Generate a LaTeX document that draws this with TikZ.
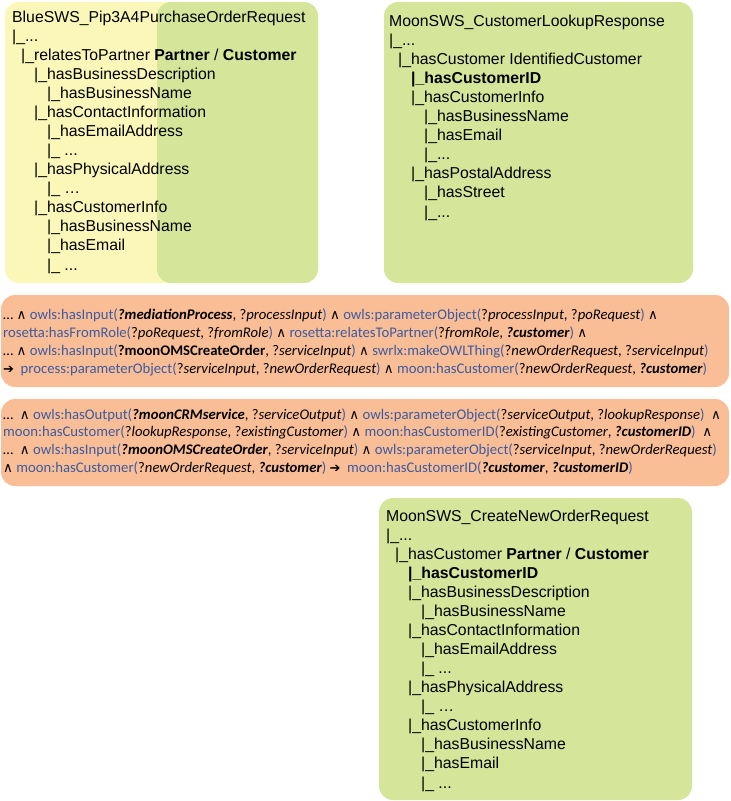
\documentclass[tikz,border=0pt]{standalone}
\usepackage{fontspec}
\setmainfont{Liberation Sans}
\newfontfamily\rulefont{Carlito}
\newfontfamily\symfont{DejaVu Sans}
\usepackage{xcolor}
\usetikzlibrary{positioning}

\definecolor{boxyellow}{HTML}{FAF7B8}
\definecolor{boxgreen}{HTML}{D5E59A}
\definecolor{ruleorange}{HTML}{FABE96}
\definecolor{predblue}{HTML}{3C5AA0}

% rule atoms
\newcommand\pred[2]{\textcolor{predblue}{#1(}#2\textcolor{predblue}{)}}
\newcommand\qv[1]{?\textit{#1}}
\newcommand\qb[1]{\textbf{\textit{?#1}}}
\newcommand\qB[1]{\textbf{?#1}}
\newcommand\und{{\symfont\fontsize{13.5}{12}\selectfont ∧}}
\newcommand\impl{{\symfont\fontsize{13}{12}\selectfont ➔}}
\newcommand\ind[1]{\hspace*{#1pt}}

\begin{document}
\begin{tikzpicture}[x=1pt, y=-1pt,
  tree/.style={anchor=base west, inner sep=0pt, align=left,
    font=\fontsize{15.8}{19.07}\selectfont},
  rule/.style={anchor=base west, inner sep=0pt, align=left,
    font=\rulefont\fontsize{14.7}{17.8}\selectfont},
  box/.style={rounded corners=14pt}]

  \useasboundingbox (0,0) rectangle (731,801);

  % Boxes
  \fill[box, boxyellow] (5,2) rectangle (318,283);
  \fill[box, boxgreen] (157,2) rectangle (318,283);
  \fill[box, boxgreen] (384,2) rectangle (693,283);
  \fill[box, ruleorange] (1,295) rectangle (729,387);
  \fill[box, ruleorange] (1,399) rectangle (729,486);
  \fill[box, boxgreen] (379,498) rectangle (692,800);

  % Purchase order request (anchored at its last line)
  \node[tree] (poreq) at (12,270) {BlueSWS\_Pip3A4PurchaseOrderRequest\\
    |\_...\\
    \ind{9}|\_relatesToPartner \textbf{Partner} / \textbf{Customer}\\
    \ind{22}|\_hasBusinessDescription\\
    \ind{35}|\_hasBusinessName\\
    \ind{22}|\_hasContactInformation\\
    \ind{35}|\_hasEmailAddress\\
    \ind{35}|\_ ...\\
    \ind{22}|\_hasPhysicalAddress\\
    \ind{35}|\_ …\\
    \ind{22}|\_hasCustomerInfo\\
    \ind{35}|\_hasBusinessName\\
    \ind{35}|\_hasEmail\\
    \ind{35}|\_ ...};

  % Customer lookup response
  \node[tree] (lookup) at (389,217) {MoonSWS\_CustomerLookupResponse\\
    |\_...\\
    \ind{9}|\_hasCustomer IdentifiedCustomer\\
    \ind{22}\textbf{|\_hasCustomerID}\\
    \ind{22}|\_hasCustomerInfo\\
    \ind{35}|\_hasBusinessName\\
    \ind{35}|\_hasEmail\\
    \ind{35}|\_...\\
    \ind{22}|\_hasPostalAddress\\
    \ind{35}|\_hasStreet\\
    \ind{35}|\_...};

  % Mediation rules
  \node[rule] (rulecust) at (3,373) {\dots\ \und\ \pred{owls:hasInput}{\qb{mediationProcess}, \qv{processInput}} \und\ \pred{owls:parameterObject}{\qv{processInput}, \qv{poRequest}} \und\\
    \pred{rosetta:hasFromRole}{\qv{poRequest}, \qv{fromRole}} \und\ \pred{rosetta:relatesToPartner}{\qv{fromRole}, \qb{customer}} \und\\
    \dots\ \und\ \pred{owls:hasInput}{\qB{moonOMSCreateOrder}, \qv{serviceInput}} \und\ \pred{swrlx:makeOWLThing}{\qv{newOrderRequest}, \qv{serviceInput}}\\
    \impl\ \ \pred{process:parameterObject}{\qv{serviceInput}, \qv{newOrderRequest}} \und\ \pred{moon:hasCustomer}{\qv{newOrderRequest}, \qb{customer}}};

  \node[rule] (ruleid) at (3,472.5) {\dots\ \ \und\ \pred{owls:hasOutput}{\qb{moonCRMservice}, \qv{serviceOutput}} \und\ \pred{owls:parameterObject}{\qv{serviceOutput}, \qv{lookupResponse}}\ \ \und\\
    \pred{moon:hasCustomer}{\qv{lookupResponse}, \qv{existingCustomer}} \und\ \pred{moon:hasCustomerID}{\qv{existingCustomer}, \qb{customerID}}\ \ \und\\
    \dots\ \ \und\ \pred{owls:hasInput}{\qb{moonOMSCreateOrder}, \qv{serviceInput}} \und\ \pred{owls:parameterObject}{\qv{serviceInput}, \qv{newOrderRequest}}\\
    \und\ \pred{moon:hasCustomer}{\qv{newOrderRequest}, \qb{customer}} \impl\ \ \pred{moon:hasCustomerID}{\qb{customer}, \qb{customerID}}};

  % Create new order request
  \node[tree] (neworder) at (386,788) {MoonSWS\_CreateNewOrderRequest\\
    |\_...\\
    \ind{9}|\_hasCustomer \textbf{Partner} / \textbf{Customer}\\
    \ind{22}\textbf{|\_hasCustomerID}\\
    \ind{22}|\_hasBusinessDescription\\
    \ind{35}|\_hasBusinessName\\
    \ind{22}|\_hasContactInformation\\
    \ind{35}|\_hasEmailAddress\\
    \ind{35}|\_ ...\\
    \ind{22}|\_hasPhysicalAddress\\
    \ind{35}|\_ …\\
    \ind{22}|\_hasCustomerInfo\\
    \ind{35}|\_hasBusinessName\\
    \ind{35}|\_hasEmail\\
    \ind{35}|\_ ...};

\end{tikzpicture}
\end{document}
